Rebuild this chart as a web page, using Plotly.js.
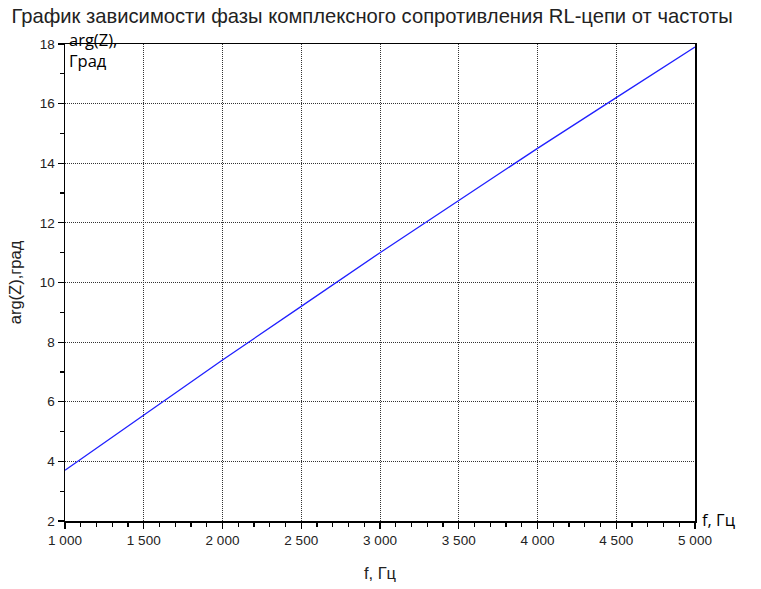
<!DOCTYPE html>
<html>
<head>
<meta charset="utf-8">
<script src="https://cdn.plot.ly/plotly-3.0.1.min.js"></script>
<style>html,body{margin:0;padding:0;background:#fff;}#chart{width:761px;height:589px;}</style>
</head>
<body>
<div id="chart"></div>
<script>
const freq = [1000, 1500, 2000, 2500, 3000, 3500, 4000, 4500, 5000];
const phase = [3.7, 5.55, 7.4, 9.2, 11.0, 12.75, 14.5, 16.2, 17.9];
const titleText = 'График зависимости фазы комплексного сопротивления RL-цепи от частоты';
const xTitle = 'f, Гц';
const yTitle = 'arg(Z),град';
const yNote = 'arg(Z),<br>Град';
const xNote = 'f, Гц';

const trace = {
  x: freq, y: phase, type: 'scatter', mode: 'lines',
  line: {color: '#2020ff', width: 1.3}, hoverinfo: 'skip'
};
const axisCommon = {
  showline: true, mirror: true, linecolor: '#000', linewidth: 1.5,
  ticks: 'outside', ticklen: 6, tickcolor: '#000', tickwidth: 1.2,
  showgrid: true, gridcolor: '#333', griddash: '1px,1px', gridwidth: 1,
  zeroline: false,
  tickfont: {family: 'Liberation Sans, Arial', size: 13.5, color: '#222'}
};
const layout = {
  width: 761, height: 589,
  margin: {l: 65, r: 66, t: 44, b: 68},
  paper_bgcolor: '#fff', plot_bgcolor: '#fff',
  separators: ', ',
  showlegend: false,
  title: {text: titleText, x: 0.489, xanchor: 'center', y: 0.973, yanchor: 'middle',
          font: {family: 'Liberation Sans, Arial', size: 20.2, color: '#222'}},
  xaxis: Object.assign({}, axisCommon, {
    range: [1000, 5000], tickmode: 'linear', tick0: 1000, dtick: 500, tickformat: ',d',
    minor: {ticks: 'outside', dtick: 100, ticklen: 4, tickcolor: '#000', tickwidth: 1.2, showgrid: false},
    title: {text: xTitle, standoff: 20, font: {family: 'Liberation Sans, Arial', size: 16.5, color: '#222'}}
  }),
  yaxis: Object.assign({}, axisCommon, {
    range: [2, 18], tickmode: 'linear', tick0: 2, dtick: 2,
    minor: {ticks: 'outside', dtick: 1, ticklen: 4, tickcolor: '#000', tickwidth: 1.2, showgrid: false},
    title: {text: yTitle, standoff: 14, font: {family: 'Liberation Sans, Arial', size: 16.5, color: '#222'}}
  }),
  annotations: [
    {text: yNote, xref: 'paper', yref: 'paper', x: 0, y: 1.037, xanchor: 'left', yanchor: 'top',
     xshift: 2, showarrow: false, align: 'left',
     font: {family: 'Open Sans', size: 16.5, color: '#000'}},
    {text: xNote, xref: 'paper', yref: 'paper', x: 1, y: 0, xanchor: 'left', yanchor: 'middle',
     xshift: 5, yshift: 2, showarrow: false, align: 'left',
     font: {family: 'Open Sans', size: 16.5, color: '#000'}}
  ]
};
Plotly.newPlot('chart', [trace], layout, {displayModeBar: false, staticPlot: true});
</script>
</body>
</html>
